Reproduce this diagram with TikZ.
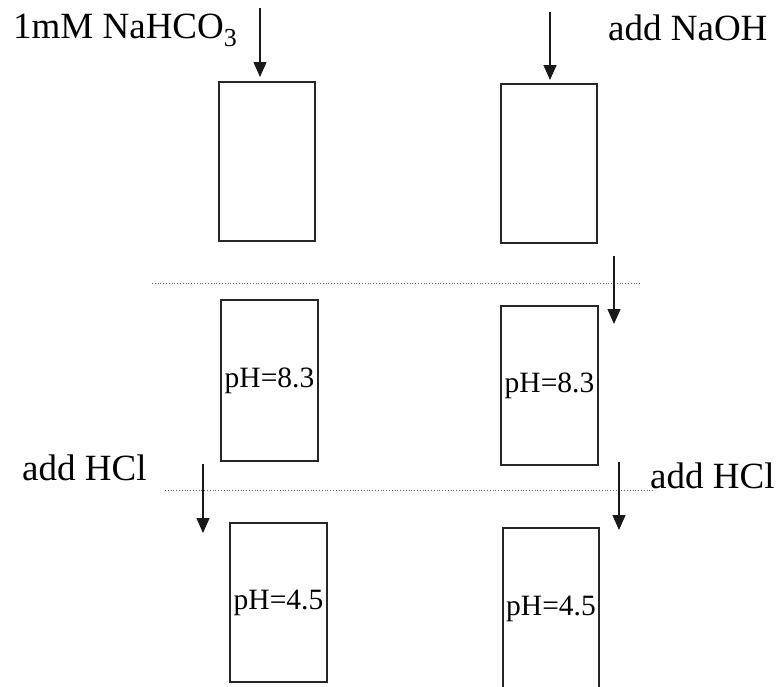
\documentclass[tikz,border=0pt]{standalone}
\usepackage{fontspec}
\setmainfont{Liberation Serif}
\usetikzlibrary{arrows.meta}
\begin{document}
\begin{tikzpicture}[x=1pt,y=-1pt,
  beaker/.style={draw=black!85, line width=1.3pt, inner sep=0pt,
    font=\fontsize{29.5}{31}\selectfont},
  addlabel/.style={anchor=base west, inner sep=0pt,
    font=\fontsize{37}{40}\selectfont},
  feed/.style={draw=black!90, line width=1.3pt,
    -{Triangle[length=15pt,width=13pt]}},
  divider/.style={draw=black!60, line width=0.8pt, dotted}]
\useasboundingbox (0,0) rectangle (779,686);

% beakers
\node[beaker, minimum width=96pt, minimum height=159pt] (b1) at (267,161.5) {};
\node[beaker, minimum width=96pt, minimum height=159pt] (b2) at (549,163.5) {};
\node[beaker, minimum width=97pt, minimum height=161pt] (b3) at (269.5,380.5) {pH=8.3};
\node[beaker, minimum width=97pt, minimum height=159pt] (b4) at (549.5,385.5) {pH=8.3};
\node[beaker, minimum width=97pt, minimum height=159pt] (b5) at (278.5,602.5) {pH=4.5};
\node[beaker, minimum width=96pt, minimum height=162pt] (b6) at (551,609) {pH=4.5};

% labels
\node[addlabel] (l1) at (13,38) {1mM NaHCO\textsubscript{3}};
\node[addlabel] (l2) at (608,40) {add NaOH};
\node[addlabel] (l3) at (22,480) {add HCl};
\node[addlabel] (l4) at (650,488) {add HCl};

% dividers
\coordinate (d1a) at (152,283);
\coordinate (d1b) at (640,283);
\coordinate (d2a) at (165,490);
\coordinate (d2b) at (655,490);
\draw[divider] (d1a) -- (d1b);
\draw[divider] (d2a) -- (d2b);

% feed arrows
\coordinate (a1s) at (260,8);   \coordinate (a1e) at (260,77);
\coordinate (a2s) at (550,12);  \coordinate (a2e) at (550,80);
\coordinate (a3s) at (614,256); \coordinate (a3e) at (614,324);
\coordinate (a4s) at (203,464); \coordinate (a4e) at (203,533);
\coordinate (a5s) at (619,462); \coordinate (a5e) at (619,530);
\draw[feed] (a1s) -- (a1e);
\draw[feed] (a2s) -- (a2e);
\draw[feed] (a3s) -- (a3e);
\draw[feed] (a4s) -- (a4e);
\draw[feed] (a5s) -- (a5e);
\end{tikzpicture}
\end{document}
